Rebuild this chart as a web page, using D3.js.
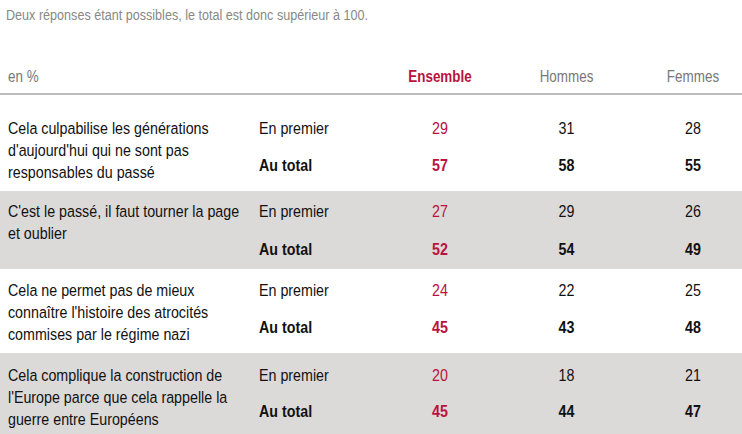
<!DOCTYPE html>
<html><head><meta charset="utf-8">
<script src="https://cdn.jsdelivr.net/npm/d3@7"></script>
<style>body{margin:0;background:#fff}svg{display:block;font-family:"Liberation Sans Narrow","Arial Narrow","Liberation Sans",sans-serif}</style>
</head><body><div id="chart"></div>
<script>
const labels = [
  ["Cela culpabilise les générations", "d'aujourd'hui qui ne sont pas", "responsables du passé"],
  ["C'est le passé, il faut tourner la page", "et oublier"],
  ["Cela ne permet pas de mieux", "connaître l'histoire des atrocités", "commises par le régime nazi"],
  ["Cela complique la construction de", "l'Europe parce que cela rappelle la", "guerre entre Européens"]
];
const columns = ["Ensemble", "Hommes", "Femmes"];
const enPremier = [[29, 31, 28], [27, 29, 26], [24, 22, 25], [20, 18, 21]];
const auTotal = [[57, 58, 55], [52, 54, 49], [45, 43, 48], [45, 44, 47]];

const width = 742, height = 434;
const red = "#b8123e";
const sx = 0.84; // horizontal squeeze to mimic a condensed face
const svg = d3.select("#chart").append("svg").attr("width", width).attr("height", height);

const rowTops = [95, 191, 269, 353, 434];
const firstY = [134, 217, 296, 381];
const totalY = [171, 255, 333, 417];
const x = d3.scalePoint().domain(columns).range([440, 693]);

const bg = svg.append("g");
const t = svg.append("g").attr("transform", `scale(${sx},1)`);
const X = v => v / sx;

bg.selectAll("rect.band").data(labels).join("rect").attr("class", "band")
  .attr("x", 0).attr("y", (d, i) => rowTops[i]).attr("width", width)
  .attr("height", (d, i) => rowTops[i + 1] - rowTops[i])
  .attr("fill", (d, i) => i % 2 ? "#dcd9d9" : "#fff");
bg.append("rect").attr("x", 0).attr("y", 93).attr("width", width).attr("height", 2).attr("fill", "#bbb");

t.append("text").attr("x", X(6)).attr("y", 20).attr("fill", "#888").attr("font-size", 15)
  .text("Deux réponses étant possibles, le total est donc supérieur à 100.");
t.append("text").attr("x", X(8)).attr("y", 82).attr("fill", "#777").attr("font-size", 16).text("en %");
t.selectAll("text.col").data(columns).join("text").attr("class", "col")
  .attr("x", d => X(x(d))).attr("y", 82).attr("text-anchor", "middle").attr("font-size", 16)
  .attr("fill", (d, i) => i === 0 ? red : "#777").attr("font-weight", (d, i) => i === 0 ? "bold" : null)
  .text(d => d);

labels.forEach((lines, i) => {
  const row = t.append("g");
  row.selectAll("text.lab").data(lines).join("text").attr("class", "lab")
    .attr("x", X(8)).attr("y", (d, k) => firstY[i] + k * 22)
    .attr("font-size", 17).attr("fill", "#111").text(d => d);
  row.append("text").attr("x", X(259)).attr("y", firstY[i]).attr("font-size", 17).attr("fill", "#111").text("En premier");
  row.append("text").attr("x", X(259)).attr("y", totalY[i]).attr("font-size", 17).attr("font-weight", "bold").attr("fill", "#111").text("Au total");
  row.selectAll("text.p").data(enPremier[i]).join("text").attr("class", "p")
    .attr("x", (d, k) => X(x(columns[k]))).attr("y", firstY[i]).attr("text-anchor", "middle")
    .attr("font-size", 17).attr("fill", (d, k) => k === 0 ? red : "#111").text(d => d);
  row.selectAll("text.t").data(auTotal[i]).join("text").attr("class", "t")
    .attr("x", (d, k) => X(x(columns[k]))).attr("y", totalY[i]).attr("text-anchor", "middle")
    .attr("font-size", 17).attr("font-weight", "bold").attr("fill", (d, k) => k === 0 ? red : "#111").text(d => d);
});
</script></body></html>
